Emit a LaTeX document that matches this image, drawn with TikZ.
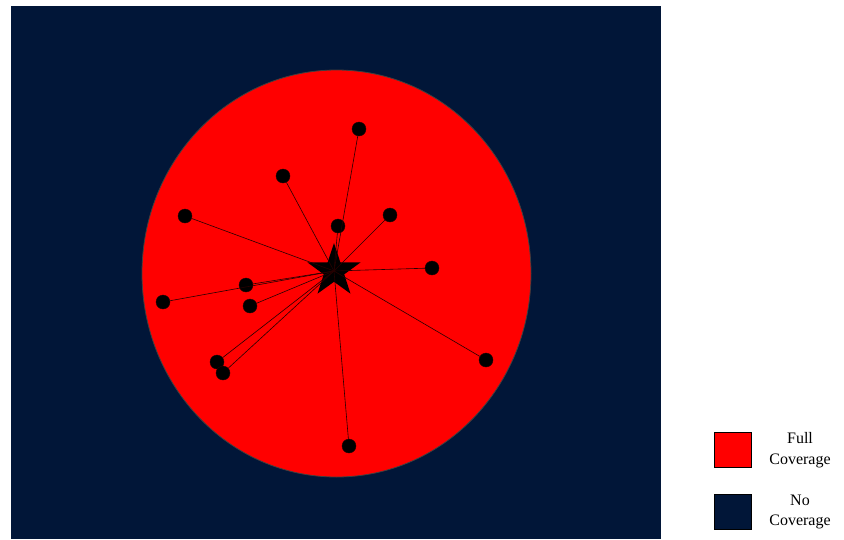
\documentclass[tikz,border=0pt]{standalone}
\usepackage{fontspec}
\setmainfont{Liberation Serif}
\usetikzlibrary{shapes.geometric,positioning}
\definecolor{nocov}{RGB}{1,22,56}
\definecolor{fullcov}{RGB}{255,0,0}
\newcommand{\legendentry}[4]{%
    \node[legbox, fill=#2] (#1) at #3 {};%
    \node[legtext] (#1-txt) at ([xshift=67pt]#1.center) {#4};%
}

\begin{document}
\begin{tikzpicture}[
        x=1pt,
        y=-1pt,
        sensor/.style={circle, fill=black, draw=black!85!red, inner sep=0pt, minimum size=14pt},
        hub/.style={star, star points=5, star point ratio=2.6, fill=black, inner sep=0pt, minimum size=56pt},
        link/.style={draw=black!85!red, line width=0.6pt},
        legbox/.style={draw=black, line width=1.8pt, minimum width=37pt, minimum height=35pt, inner sep=0pt},
        legtext/.style={align=center, font=\fontsize{16}{20.5}\selectfont, inner sep=0pt}
    ]
        \useasboundingbox (0,0) rectangle (844,539);
        % area and coverage zone
        \fill[nocov] (11,6) rectangle (661,539);
        \draw[fill=fullcov, draw=black!75, line width=0.8pt] (336.5,273.5) ellipse [x radius=194.5, y radius=203.5];

        % base station and sensors
        \node[hub] (bs) at (334,271) {};
        \node[sensor] (s1) at (359,129) {};
        \node[sensor] (s2) at (283,176) {};
        \node[sensor] (s3) at (185,216) {};
        \node[sensor] (s4) at (338,226) {};
        \node[sensor] (s5) at (390,215) {};
        \node[sensor] (s6) at (432,268) {};
        \node[sensor] (s7) at (246,285) {};
        \node[sensor] (s8) at (163,302) {};
        \node[sensor] (s9) at (250,306) {};
        \node[sensor] (s10) at (217,362) {};
        \node[sensor] (s11) at (223,373) {};
        \node[sensor] (s12) at (486,360) {};
        \node[sensor] (s13) at (349,446) {};

        \foreach \i in {1,...,13}
            \draw[link] (bs.center) -- (s\i);

        % legend
        \legendentry{full}{fullcov}{(733,450)}{Full\\Coverage}
        \legendentry{none}{nocov}{(733,512)}{No\\Coverage}
    \end{tikzpicture}
\end{document}
